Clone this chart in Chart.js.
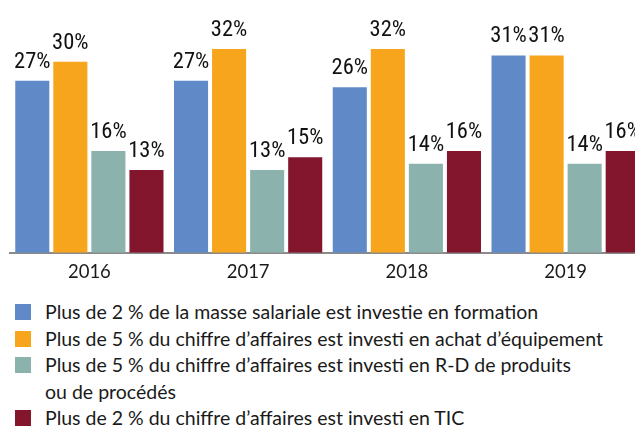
<!DOCTYPE html>
<html><head><meta charset="utf-8">
<script src="https://cdn.jsdelivr.net/npm/chart.js@4/dist/chart.umd.min.js"></script>
<style>
html,body{margin:0;padding:0;background:#fff;width:635px;height:427px;overflow:hidden;position:relative}
#wrap{position:absolute;left:0;top:0;width:645px;height:291px}
#legend{position:absolute;left:0;top:299px;font-family:Lato,sans-serif;font-size:19.5px;color:#1a1a1a;line-height:26.5px}
.item{position:relative;padding-left:45px;white-space:nowrap}
.sw{position:absolute;left:15px;top:5px;width:16px;height:16px}
</style></head>
<body>
<div id="wrap"><canvas id="c" width="645" height="291"></canvas></div>
<div id="legend"></div>
<script>
const categories = ['2016', '2017', '2018', '2019'];
const seriesNames = [
  'Plus de 2 % de la masse salariale est investie en formation',
  'Plus de 5 % du chiffre d\u2019affaires est investi en achat d\u2019\u00e9quipement',
  ['Plus de 5 % du chiffre d\u2019affaires est investi en R-D de produits', 'ou de proc\u00e9d\u00e9s'],
  'Plus de 2 % du chiffre d\u2019affaires est investi en TIC'
];
const formation = [27, 27, 26, 31];
const equipement = [30, 32, 32, 31];
const rd = [16, 13, 14, 14];
const tic = [13, 15, 16, 16];
const colors = ['#6089C8', '#F7A51C', '#8BB2AD', '#83152D'];
const seriesValues = [formation, equipement, rd, tic];

const labelFont = "22.5px 'Roboto Condensed', 'DejaVu Sans Condensed', sans-serif";

const valueLabels = {
  id: 'valueLabels',
  afterDatasetsDraw(chart) {
    const ctx = chart.ctx;
    ctx.save();
    ctx.font = labelFont;
    ctx.fillStyle = '#111';
    ctx.textAlign = 'center';
    ctx.textBaseline = 'alphabetic';
    chart.data.datasets.forEach((ds, i) => {
      chart.getDatasetMeta(i).data.forEach((bar, j) => {
        ctx.fillText(ds.data[j] + '%', bar.x, bar.y - 13);
      });
    });
    ctx.restore();
  }
};

new Chart(document.getElementById('c'), {
  type: 'bar',
  data: {
    labels: categories,
    datasets: seriesValues.map((vals, i) => ({
      label: Array.isArray(seriesNames[i]) ? seriesNames[i].join(' ') : seriesNames[i],
      data: vals,
      backgroundColor: colors[i],
      borderWidth: 0,
      categoryPercentage: 0.959,
      barPercentage: 0.895
    }))
  },
  options: {
    responsive: false,
    animation: false,
    layout: { padding: { left: 10, right: 0, top: 0, bottom: 0 } },
    plugins: { legend: { display: false }, tooltip: { enabled: false } },
    scales: {
      x: {
        grid: { display: false, drawTicks: false },
        border: { display: true, color: '#8a8a8a', width: 2 },
        ticks: { color: '#1a1a1a', padding: 8, font: { family: 'Lato', size: 18.5 } }
      },
      y: { display: false, min: 0, max: 39.7 }
    }
  },
  plugins: [valueLabels]
});

const leg = document.getElementById('legend');
seriesNames.forEach((n, i) => {
  const d = document.createElement('div');
  d.className = 'item';
  const s = document.createElement('span');
  s.className = 'sw';
  s.style.background = colors[i];
  d.appendChild(s);
  const lines = Array.isArray(n) ? n : [n];
  lines.forEach((l, k) => {
    if (k) d.appendChild(document.createElement('br'));
    d.appendChild(document.createTextNode(l));
  });
  leg.appendChild(d);
});
</script>
</body></html>
